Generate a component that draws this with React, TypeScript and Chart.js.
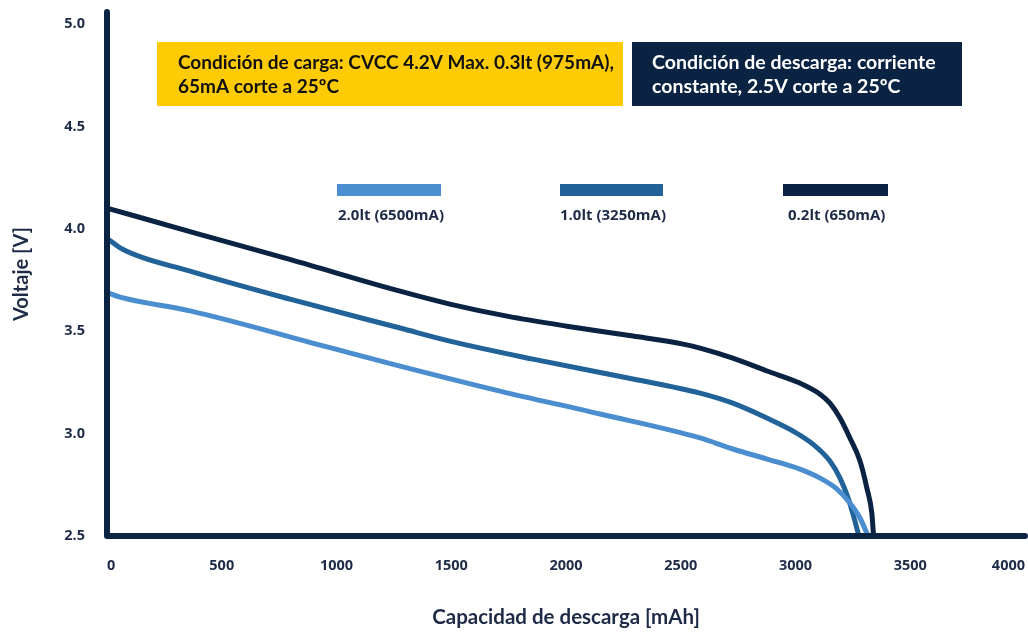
import React, { useEffect, useRef } from "react";
import { Chart, registerables } from "chart.js";

Chart.register(...registerables);

// ---- data ----
const xTicks = [0, 500, 1000, 1500, 2000, 2500, 3000, 3500, 4000];
const yTicks = [2.5, 3.0, 3.5, 4.0, 4.5, 5.0];

const seriesLabels = ["2.0lt (6500mA)", "1.0lt (3250mA)", "0.2lt (650mA)"];
const seriesColors = ["#4A8ECF", "#216299", "#0B2343"];

const capacity20 = [0, 57, 362, 972, 1277, 1712, 2148, 2584, 2727, 2876, 3019, 3107, 3181, 3237, 3281, 3316];
const voltage20 = [3.69, 3.667, 3.6, 3.42, 3.33, 3.208, 3.096, 2.979, 2.925, 2.876, 2.827, 2.783, 2.729, 2.661, 2.588, 2.5];

const capacity10 = [0, 70, 362, 797, 1277, 1494, 1856, 2292, 2584, 2727, 2876, 2989, 3076, 3150, 3194, 3229, 3259, 3276];
const voltage10 = [3.955, 3.9, 3.794, 3.657, 3.516, 3.452, 3.364, 3.267, 3.198, 3.149, 3.076, 3.013, 2.949, 2.866, 2.783, 2.686, 2.573, 2.5];

const capacity02 = [0, 400, 800, 1277, 1494, 1743, 2004, 2292, 2510, 2584, 2727, 2876, 3019, 3107, 3150, 3194, 3237, 3281, 3311, 3333, 3340];
const voltage02 = [4.102, 3.975, 3.85, 3.696, 3.633, 3.574, 3.525, 3.477, 3.4375, 3.418, 3.369, 3.306, 3.247, 3.193, 3.149, 3.076, 2.979, 2.866, 2.734, 2.607, 2.5];

const chargeNote = ["Condición de carga: CVCC 4.2V Max. 0.3lt (975mA),", "65mA corte a 25ºC"];
const dischargeNote = ["Condición de descarga: corriente", "constante, 2.5V corte a 25ºC"];

const xTitle = "Capacidad de descarga [mAh]";
const yTitle = "Voltaje [V]";

const NAVY = "#0B2343";
const TEXT = "#1E2B47";
const YELLOW = "#FFCB05";

const toPoints = (xs: number[], ys: number[]) => xs.map((x, i) => ({ x, y: ys[i] }));

const decorPlugin = {
  id: "decor",
  beforeDraw(chart: any) {
    const ctx = chart.ctx;
    ctx.save();
    ctx.fillStyle = YELLOW;
    ctx.fillRect(157, 42, 466, 64);
    ctx.fillStyle = NAVY;
    ctx.fillRect(632, 42, 330, 64);
    ctx.font = "bold 19px Lato";
    ctx.textBaseline = "middle";
    ctx.textAlign = "left";
    ctx.fillStyle = "#111111";
    chargeNote.forEach((t, i) => ctx.fillText(t, 178, 63 + i * 24, 436));
    ctx.fillStyle = "#FFFFFF";
    ctx.font = "bold 19.5px Lato";
    dischargeNote.forEach((t, i) => ctx.fillText(t, 652, 63 + i * 24, 300));
    ctx.restore();
  },
  afterDatasetsDraw(chart: any) {
    const { ctx, chartArea } = chart;
    ctx.save();
    ctx.strokeStyle = NAVY;
    ctx.lineWidth = 6;
    ctx.lineCap = "round";
    ctx.lineJoin = "round";
    ctx.beginPath();
    ctx.moveTo(chartArea.left, chartArea.top);
    ctx.lineTo(chartArea.left, chartArea.bottom);
    ctx.lineTo(chartArea.right, chartArea.bottom);
    ctx.stroke();
    ctx.restore();
  },
  afterDraw(chart: any) {
    const ctx = chart.ctx;
    const bars = [
      [337, 104, 338],
      [560, 103, 560],
      [783, 105, 788],
    ];
    ctx.save();
    ctx.font = "bold 15px 'Open Sans'";
    ctx.textBaseline = "middle";
    ctx.textAlign = "left";
    bars.forEach((b, i) => {
      ctx.fillStyle = seriesColors[i];
      ctx.fillRect(b[0], 184, b[1], 12);
      ctx.fillStyle = TEXT;
      ctx.fillText(seriesLabels[i], b[2], 216);
    });
    ctx.restore();
  },
};

const zeroPad = (s: any) => {
  s.paddingTop = 0;
  s.paddingBottom = 0;
  s.paddingLeft = 0;
  s.paddingRight = 0;
};

export default function App() {
  const ref = useRef<HTMLCanvasElement | null>(null);

  useEffect(() => {
    if (!ref.current) return;
    const chart = new Chart(ref.current, {
      type: "line",
      data: {
        datasets: [
          { label: seriesLabels[0], data: toPoints(capacity20, voltage20), borderColor: seriesColors[0] },
          { label: seriesLabels[1], data: toPoints(capacity10, voltage10), borderColor: seriesColors[1] },
          { label: seriesLabels[2], data: toPoints(capacity02, voltage02), borderColor: seriesColors[2] },
        ].map((d) => ({
          ...d,
          borderWidth: 5,
          pointRadius: 0,
          fill: false,
          cubicInterpolationMode: "monotone" as const,
          borderCapStyle: "round" as const,
          borderJoinStyle: "round" as const,
        })),
      },
      options: {
        animation: false,
        responsive: true,
        maintainAspectRatio: false,
        layout: { padding: { top: 12, right: 3, left: 0, bottom: 0 } },
        plugins: { legend: { display: false }, tooltip: { enabled: false } },
        scales: {
          x: {
            type: "linear",
            min: 0,
            max: 4000,
            grid: { display: false, drawTicks: false },
            border: { display: false },
            afterBuildTicks: (s: any) => {
              s.ticks = xTicks.map((v) => ({ value: v }));
            },
            afterFit: (s: any) => {
              s.height = 96;
              zeroPad(s);
            },
            ticks: {
              align: "inner",
              padding: 21,
              autoSkip: false,
              maxRotation: 0,
              color: TEXT,
              font: { family: "'Open Sans'", weight: "bold", size: 14.5 },
              callback: (v: any) => String(v),
            },
            title: {
              display: true,
              text: xTitle,
              color: TEXT,
              font: { family: "Lato", weight: "bold", size: 20.5 },
              padding: { top: 0, bottom: 2 },
            },
          },
          y: {
            type: "linear",
            min: 2.5,
            max: 5.06,
            grid: { display: false, drawTicks: false },
            border: { display: false },
            afterBuildTicks: (s: any) => {
              s.ticks = yTicks.map((v) => ({ value: v }));
            },
            afterFit: (s: any) => {
              s.width = 107;
              zeroPad(s);
            },
            ticks: {
              padding: 22,
              color: TEXT,
              font: { family: "'Open Sans'", weight: "bold", size: 14.5 },
              callback: (v: any) => Number(v).toFixed(1),
            },
            title: {
              display: true,
              text: yTitle,
              color: TEXT,
              font: { family: "Lato", weight: "bold", size: 20 },
              padding: { top: 10, bottom: 0 },
            },
          },
        },
      },
      plugins: [decorPlugin],
    } as any);
    return () => chart.destroy();
  }, []);

  return (
    <div style={{ position: "absolute", left: 0, top: 0, width: 1028, height: 632, background: "#FFFFFF" }}>
      <canvas ref={ref} />
    </div>
  );
}
